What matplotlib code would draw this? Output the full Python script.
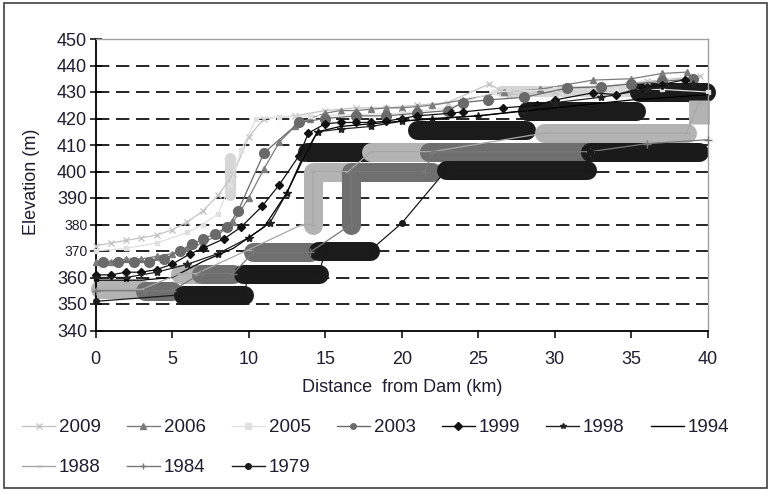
import matplotlib
matplotlib.use("Agg")
import matplotlib.pyplot as plt
from matplotlib.lines import Line2D
from matplotlib.patches import Rectangle

plt.rcParams["font.family"] = ["Liberation Sans", "DejaVu Sans"]
TXT = "#1e1e30"

# perfis longitudinais: distancia da barragem (km) x cota do leito (m)
x_2009 = [0, 1, 2, 3, 4, 5, 6, 7, 8, 9, 10, 11, 13, 15, 17, 19, 21, 23, 25.7, 27, 30, 33, 36, 39.5]
y_2009 = [372, 373, 374, 375, 376, 378, 381, 385, 391, 399, 413, 420, 421, 423, 424, 424, 425, 426, 433, 429, 430, 432, 434, 436]

x_2006 = [0, 1, 2, 3, 4, 5, 6, 7, 8, 9, 10, 11, 12, 13, 14, 15, 16, 17, 18, 19, 20, 21, 22, 24, 26.7, 29, 32.5, 35, 37, 38.6]
y_2006 = [366, 366, 367, 367, 368, 369, 371, 373, 376, 381, 390, 401, 411, 417, 420, 422, 423, 423, 423.5, 424, 424, 424.5, 425, 427, 430, 431, 434.5, 435, 437, 437.5]

x_2005 = [0, 2, 4, 6, 7, 8, 8.8, 9.5, 10.5, 12, 14, 17, 20, 23, 26, 30, 34, 37, 40]
y_2005 = [370, 371, 373, 377, 380, 384, 395, 408, 420, 420.5, 421, 421.5, 422, 424, 430, 431, 431, 431, 430]

x_2003 = [0.5, 1.5, 2.5, 3.5, 4.5, 5.5, 6.3, 7, 7.8, 8.6, 9.3, 11, 13.3, 15, 17, 19, 21, 23, 24, 25.6, 28, 30.8, 33, 35, 37, 39]
y_2003 = [366, 366, 366, 366, 367, 370, 372.5, 374.5, 376.5, 379, 385, 407, 418.5, 420, 421, 421, 422, 423, 426, 427, 428, 431.5, 432, 433, 434, 435]

x_1999 = [0, 1, 2, 3, 4, 5, 6.2, 7, 8.4, 9.5, 10.9, 12, 13.3, 13.9, 15, 16, 17, 18, 19, 20, 21, 23.2, 24, 26.6, 28.8, 30, 32.5, 34, 35.7, 37, 38.5]
y_1999 = [361, 361, 362, 362, 363, 365, 369, 371, 374.6, 379, 387, 395, 406, 414.5, 418, 418.5, 418.5, 418.5, 419, 420, 421, 422, 422.5, 424, 425, 427, 429.7, 429, 431.6, 432.8, 434.7]

x_1998 = [0, 2, 4, 6, 8, 10, 11.4, 12.5, 13.5, 14.5, 16, 18, 20, 22, 25, 28, 30, 33, 36, 39]
y_1998 = [360, 360, 362, 365, 369, 375, 380.7, 392, 405, 415, 416, 417, 419, 420, 421, 423, 426, 428, 431, 433]

x_1994 = [0, 3, 5, 7, 9, 11, 12.5, 13.5, 14.5, 16, 20, 25, 30, 35, 40]
y_1994 = [359, 359, 360, 366, 371, 379, 392, 404, 415, 417, 419, 421, 424, 427, 429]

x_1988 = [0, 3, 5.5, 6.6, 10, 13.5, 14.2, 14.2, 16.5, 18, 22, 29.3, 38.6, 39.4]
y_1988 = [355.5, 355.5, 361.5, 361.5, 370.5, 380, 380, 400, 400, 407.5, 407.5, 414.5, 414.5, 426]

x_1984 = [0, 3.2, 5, 6.9, 9, 10.3, 14, 16.7, 16.7, 21.5, 22, 32.3, 36, 40]
y_1984 = [355, 355, 355, 361.5, 361.5, 369.5, 369.5, 380, 400, 400, 407.5, 407.5, 410.5, 412]

x_1979 = [0, 5.7, 9.7, 10, 14.6, 15, 17.9, 20, 22.9, 32.1, 32.3, 39.4]
y_1979 = [351, 353.5, 353.5, 361.5, 361.5, 370, 370, 380.5, 400.5, 400.5, 407.5, 407.5]

# trechos largos (depositos) de cada levantamento: (xs, ys)
bands_1994 = [([13.8, 18.0], [407.5, 407.5]), ([21.0, 28.1], [415.5, 415.5]),
              ([28.2, 35.3], [423, 423]), ([35.5, 39.9], [430, 430])]
bands_1988 = [([0.3, 3.0], [355.5, 355.5]), ([5.5, 6.6], [361.5, 361.5]),
              ([14.2, 14.2, 16.5], [380, 400, 400]), ([18.0, 22.0], [407.5, 407.5]),
              ([29.3, 38.6], [414.5, 414.5])]
bands_1984 = [([3.2, 5.0], [355, 355]), ([6.9, 9.0], [361.5, 361.5]),
              ([10.3, 14.0], [369.5, 369.5]), ([16.7, 16.7, 22.0], [380, 400, 400]),
              ([21.8, 32.3], [407.5, 407.5])]
bands_1979 = [([5.7, 9.7], [353.5, 353.5]), ([9.6, 14.6], [361.5, 361.5]),
              ([14.5, 17.9], [370, 370]), ([22.9, 32.1], [400.5, 400.5]),
              ([32.3, 39.4], [407.5, 407.5])]
bands_2005 = [([8.8, 8.8], [391, 405]), ([26.5, 39.0], [430.5, 430.5])]
step_1988 = ([39.4, 39.4], [418, 427])

x_ticks = [0, 5, 10, 15, 20, 25, 30, 35, 40]
y_ticks = [340, 350, 360, 370, 380, 390, 400, 410, 420, 430, 440, 450]
grid_levels = [350, 360, 370, 380, 390, 400, 410, 420, 430, 440]

series = [
    ("2009", x_2009, y_2009, dict(color="#c4c4c4", marker="x", ms=5, mew=1.0)),
    ("2006", x_2006, y_2006, dict(color="#7c7c7c", marker="^", ms=4.5)),
    ("2005", x_2005, y_2005, dict(color="#e0e0e0", marker="s", ms=3)),
    ("2003", x_2003, y_2003, dict(color="#6a6a6a", marker="o", ms=7)),
    ("1999", x_1999, y_1999, dict(color="#111111", marker="D", ms=3.8)),
    ("1998", x_1998, y_1998, dict(color="#222222", marker="*", ms=6)),
    ("1994", x_1994, y_1994, dict(color="#000000", marker=None)),
    ("1988", x_1988, y_1988, dict(color="#a8a8a8", marker="_", ms=5)),
    ("1984", x_1984, y_1984, dict(color="#777777", marker="+", ms=6)),
    ("1979", x_1979, y_1979, dict(color="#1a1a1a", marker="o", ms=4)),
]


def draw_bands(ax, bands, color, lw=13.7, z=2):
    for xs, ys in bands:
        ax.plot(xs, ys, color=color, lw=lw, solid_capstyle="round",
                solid_joinstyle="round", zorder=z, clip_on=False)


fig = plt.figure(figsize=(7.7, 4.92), dpi=100)
ax = fig.add_axes([95.5 / 770, 161.5 / 492, 612.5 / 770, 291.5 / 492])

for lvl in grid_levels:
    ax.axhline(lvl, color="black", lw=1.2, linestyle=(0, (8, 4)), zorder=1)

# faixas largas, na ordem de sobreposicao
draw_bands(ax, bands_2005, "#d6d6d6", lw=8, z=1.6)
draw_bands(ax, bands_1994, "#1b1b1b", z=2.0)
draw_bands(ax, bands_1988, "#b3b3b3", z=2.1)
ax.plot(*step_1988, color="#b3b3b3", lw=15, solid_capstyle="butt", zorder=2.1, clip_on=False)
draw_bands(ax, bands_1984, "#6f6f6f", z=2.2)
draw_bands(ax, bands_1979, "#1b1b1b", z=2.3)

# perfis finos com marcadores
for label, xs, ys, st in series:
    ax.plot(xs, ys, lw=0.9, zorder=3, clip_on=False, **st)

ax.set_xlim(0, 40)
ax.set_ylim(340, 450)
ax.set_xticks(x_ticks)
ax.set_xticklabels([str(v) for v in x_ticks], fontsize=13, color=TXT)
ax.set_yticks(y_ticks)
ax.set_yticklabels([str(v) for v in y_ticks], fontsize=13, color=TXT)
for lbl in ax.get_yticklabels():
    if lbl.get_text() in ("370", "380"):
        lbl.set_fontsize(10)
ax.tick_params(axis="y", direction="inout", length=8, width=1.1, pad=2)
ax.tick_params(axis="x", direction="out", length=5, width=1.1, pad=10)

for side in ("left", "bottom"):
    ax.spines[side].set_color("black")
    ax.spines[side].set_linewidth(1.3)
for side in ("top", "right"):
    ax.spines[side].set_color("#a0a0a0")
    ax.spines[side].set_linewidth(1.0)

fig.text(32 / 770, 1 - 182 / 492, "Elevation (m)", rotation=90, ha="center", va="center",
         fontsize=13, color=TXT)
fig.text(402 / 770, 1 - 387 / 492, "Distance  from Dam (km)", ha="center", va="center",
         fontsize=13, color=TXT)

# legenda: 7 colunas, preenchida por coluna
handles = {}
for label, xs, ys, st in series:
    lst = dict(st)
    if lst.get("marker"):
        lst["ms"] = 4
    else:
        lst.pop("ms", None)
    handles[label] = Line2D([], [], lw=1.0, **lst)
order = ["2009", "1988", "2006", "1984", "2005", "1979", "2003", "1999", "1998", "1994"]
fig.legend([handles[k] for k in order], order, loc="upper left",
           bbox_to_anchor=(22 / 770, 1 - 419 / 492), ncol=7, frameon=False,
           fontsize=13.5, handlelength=1.76, handletextpad=0.2, columnspacing=1.4,
           labelspacing=1.22, borderpad=0, borderaxespad=0, labelcolor=TXT)

fig.patches.append(Rectangle((4 / 770, 4 / 492), 763 / 770, 485 / 492, transform=fig.transFigure,
                             fill=False, edgecolor="#404040", lw=1.2))

fig.savefig("out.png", dpi=100)
